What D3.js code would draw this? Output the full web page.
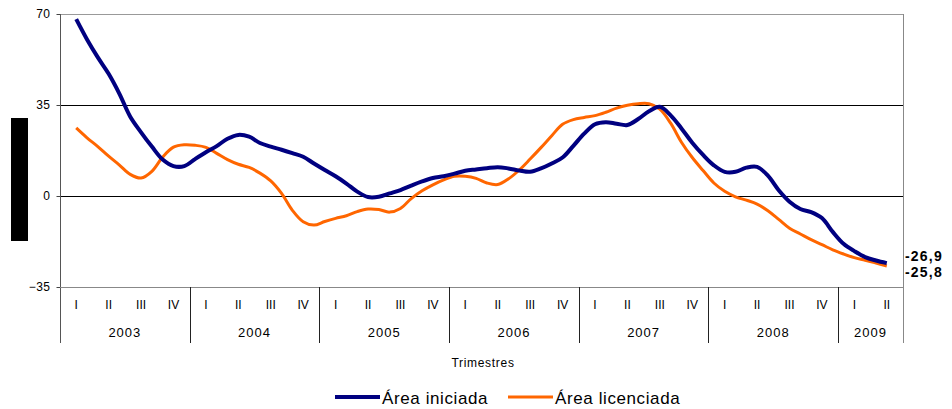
<!DOCTYPE html>
<html lang="es">
<head>
<meta charset="UTF-8">
<title>Área iniciada / licenciada</title>
<script src="https://cdn.jsdelivr.net/npm/d3@7"></script>
<style>
  * { margin: 0; padding: 0; }
  body { background: #fff; font-family: "Liberation Sans", Arial, sans-serif; }
</style>
</head>
<body>
<svg id="chart" width="952" height="409"></svg>
<script>
// trimestres y años
const years = ['2003', '2004', '2005', '2006', '2007', '2008', '2009']
const quarterNames = ['I', 'II', 'III', 'IV']
const quarters = []
years.forEach(y => quarterNames.forEach(q => {
  if (!(y === '2009' && (q === 'III' || q === 'IV'))) quarters.push(y + '-' + q)
}))
const yTicks = [-35, 0, 35, 70]

// series mensuales (centro de 2003-I hasta centro de 2009-II)
const iniciada = [68, 60.2, 53.3, 47, 39.3, 30.5, 24.5, 19, 14, 11.5, 11.5, 14.2, 16.8, 19.2, 22, 23.5,
  22.8, 20.4, 19, 17.8, 16.5, 15.1, 12.5, 10, 7.6, 4.8, 1.7, -0.4, -0.3, 1, 2.3, 4, 5.6, 6.9, 7.6,
  8.6, 9.7, 10.2, 10.7, 11.1, 10.6, 9.8, 9.3, 10.6, 12.5, 14.8, 19.3, 24, 27.6, 28.4, 27.8, 27.3,
  29.6, 32.6, 34.3, 31, 26, 20.5, 15.8, 11.8, 9.3, 9.3, 10.9, 11.2, 7.8, 2.2, -2.2, -5, -6.2, -8.5,
  -13.8, -18.4, -21.2, -23.5, -24.8, -25.8]
const licenciada = [26.2, 22.4, 19, 15.3, 11.9, 8.3, 6.9, 9.5, 15, 18.8, 19.7, 19.5, 18.7, 16.4, 14,
  12.2, 11, 8.8, 5.8, 1, -5.5, -9.9, -11.2, -9.8, -8.6, -7.6, -6, -5, -5.2, -6.2, -4.8, -1, 2, 4.3,
  6.2, 7.6, 7.6, 6.8, 5, 4.4, 6.6, 10, 14.2, 18.6, 23.2, 27.6, 29.4, 30.2, 30.9, 32.2, 33.8, 34.9,
  35.5, 35.5, 33.4, 28, 20.7, 14.8, 9.8, 5, 1.8, -0.3, -1.6, -3.1, -5.7, -9, -12.4, -14.6, -16.8,
  -18.7, -20.7, -22.3, -23.7, -24.7, -25.8, -26.9]
const endLabels = ['-26,9', '-25,8']

const svg = d3.select('#chart')
const mLeft = 60, mRight = 903, mTop = 14, mBottom = 287, catBottom = 343

const xq = d3.scaleBand().domain(quarters).range([mLeft, mRight])
const bw = xq.bandwidth()
const xm = d3.scaleLinear().domain([0, iniciada.length - 1])
  .range([xq(quarters[0]) + bw / 2, xq(quarters[quarters.length - 1]) + bw / 2])
const y = d3.scaleLinear().domain([-35, 70]).range([mBottom, mTop])

// bloque negro a la izquierda
svg.append('rect').attr('x', 11).attr('y', 118).attr('width', 17).attr('height', 123).attr('fill', '#000')

// borde del área
svg.append('line').attr('x1', mLeft).attr('x2', mRight).attr('y1', mTop + 0.5).attr('y2', mTop + 0.5)
  .attr('stroke', '#999')
svg.append('line').attr('x1', mRight + 0.5).attr('x2', mRight + 0.5).attr('y1', mTop).attr('y2', catBottom)
  .attr('stroke', '#888')

// lineas de división
svg.append('g').selectAll('line').data([0, 35]).join('line')
  .attr('x1', mLeft).attr('x2', mRight)
  .attr('y1', d => Math.round(y(d)) + 0.5).attr('y2', d => Math.round(y(d)) + 0.5)
  .attr('stroke', '#000')

// eje Y
const yAxis = svg.append('g').attr('transform', `translate(${mLeft + 0.5},0)`)
  .call(d3.axisLeft(y).tickValues(yTicks).tickSize(4).tickPadding(6).tickFormat(d3.format('d')))
yAxis.select('.domain').remove()
yAxis.selectAll('line').attr('stroke', '#444')
yAxis.selectAll('text').attr('font-size', 12).attr('fill', '#000').attr('letter-spacing', 0.5)
  .attr('font-family', '"Liberation Sans", Arial, sans-serif')
svg.append('line').attr('x1', mLeft + 0.5).attr('x2', mLeft + 0.5).attr('y1', mTop).attr('y2', catBottom)
  .attr('stroke', '#555')

// eje X
svg.append('line').attr('x1', mLeft).attr('x2', mRight).attr('y1', mBottom + 0.5).attr('y2', mBottom + 0.5)
  .attr('stroke', '#888')
svg.append('g').selectAll('text').data(quarters).join('text')
  .attr('x', d => xq(d) + bw / 2).attr('y', 309)
  .attr('text-anchor', 'middle').attr('font-size', 12).attr('fill', '#000')
  .text(d => d.split('-')[1])

const yearGroups = years.map(yr => {
  const qs = quarters.filter(q => q.startsWith(yr))
  return { yr, x0: xq(qs[0]), x1: xq(qs[qs.length - 1]) + bw }
})
svg.append('g').selectAll('line').data(yearGroups.slice(1)).join('line')
  .attr('x1', d => Math.round(d.x0) + 0.5).attr('x2', d => Math.round(d.x0) + 0.5)
  .attr('y1', mBottom).attr('y2', catBottom).attr('stroke', '#222')
svg.append('g').selectAll('text').data(yearGroups).join('text')
  .attr('x', d => (d.x0 + d.x1) / 2).attr('y', 337)
  .attr('text-anchor', 'middle').attr('font-size', 13).attr('letter-spacing', 1).attr('fill', '#000')
  .text(d => d.yr)

svg.append('text').attr('x', 483).attr('y', 367).attr('text-anchor', 'middle')
  .attr('font-size', 12).attr('letter-spacing', 0.7).attr('fill', '#000').text('Trimestres')

// series
const line = d3.line().x((d, i) => xm(i)).y(d => y(d)).curve(d3.curveCatmullRom)
svg.append('path').datum(licenciada).attr('d', line)
  .attr('fill', 'none').attr('stroke', '#FF6600').attr('stroke-width', 3)
svg.append('path').datum(iniciada).attr('d', line)
  .attr('fill', 'none').attr('stroke', '#000080').attr('stroke-width', 4)

// etiquetas finales
svg.append('g').selectAll('text').data(endLabels).join('text')
  .attr('x', 905).attr('y', (d, i) => 261 + i * 16)
  .attr('font-size', 14).attr('font-weight', 'bold').attr('letter-spacing', 1.2).attr('fill', '#000')
  .text(d => d)

// leyenda
const legend = [
  { name: 'Área iniciada', color: '#000080', w: 4, x: 335 },
  { name: 'Área licenciada', color: '#FF6600', w: 3, x: 508 }
]
const lg = svg.append('g').selectAll('g').data(legend).join('g')
  .attr('transform', d => `translate(${d.x},397)`)
lg.append('line').attr('x1', 0).attr('x2', 45).attr('stroke', d => d.color).attr('stroke-width', d => d.w)
lg.append('text').attr('x', 47).attr('y', 7).attr('font-size', 17).attr('letter-spacing', 0.6)
  .attr('fill', '#000').text(d => d.name)
</script>
</body>
</html>
